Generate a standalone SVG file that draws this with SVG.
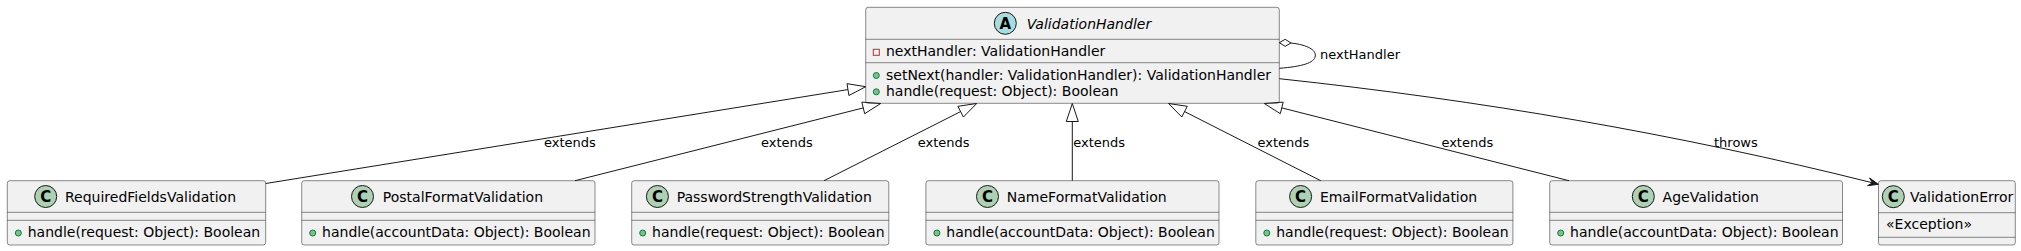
<svg xmlns="http://www.w3.org/2000/svg" width="2021" height="251" viewBox="0 0 2021 251">
<style>
.box{fill:#F1F1F1;stroke:#181818;stroke-width:0.5}
.sep{stroke:#181818;stroke-width:0.5}
.t{font-family:"DejaVu Sans",sans-serif;font-size:14px;fill:#000}
.it{font-style:italic}
.lbl{font-family:"DejaVu Sans",sans-serif;font-size:13px;fill:#000}
.cc{fill:#ADD1B2;stroke:#181818;stroke-width:1}
.ac{fill:#A9DCDF;stroke:#181818;stroke-width:1}
.ltr{font-family:"DejaVu Sans",sans-serif;font-size:15px;font-weight:bold;fill:#000;text-anchor:middle}
.pub{fill:#84BE84;stroke:#038048;stroke-width:1}
.priv{fill:none;stroke:#C82930;stroke-width:1}
.ln{fill:none;stroke:#181818;stroke-width:1}
.tri{fill:none;stroke:#181818;stroke-width:1}
.arr{fill:#181818;stroke:#181818;stroke-width:1}
</style>

<g id="ValidationHandler">
<rect class="box" x="865.7" y="7.3" width="413.6" height="96" rx="2.5"/>
<circle class="ac" cx="1005.3" cy="23.3" r="11"/>
<text class="ltr" x="1005.3" y="28.8">A</text>
<text class="t it" x="1026.7" y="28.5">ValidationHandler</text>
<line class="sep" x1="865.7" y1="39.3" x2="1279.3" y2="39.3"/>
<rect class="priv" x="873.3" y="49.3" width="6" height="6"/>
<text class="t" x="886" y="56">nextHandler: ValidationHandler</text>
<line class="sep" x1="865.7" y1="62.7" x2="1279.3" y2="62.7"/>
<circle class="pub" cx="876.3" cy="75.5" r="3"/>
<text class="t" x="886" y="79.5">setNext(handler: ValidationHandler): ValidationHandler</text>
<circle class="pub" cx="876.3" cy="91.8" r="3"/>
<text class="t" x="886" y="95.8">handle(request: Object): Boolean</text>
</g>

<g id="RequiredFieldsValidation">
<rect class="box" x="7.3" y="180.7" width="258.4" height="64.3" rx="2.5"/>
<circle class="cc" cx="45.7" cy="196.5" r="11"/>
<text class="ltr" x="45.7" y="202">C</text>
<text class="t" x="65" y="201.5">RequiredFieldsValidation</text>
<line class="sep" x1="7.3" y1="212.3" x2="265.7" y2="212.3"/>
<line class="sep" x1="7.3" y1="220.3" x2="265.7" y2="220.3"/>
<circle class="pub" cx="18.3" cy="233" r="3"/>
<text class="t" x="27.7" y="237">handle(request: Object): Boolean</text>
</g>

<g id="PostalFormatValidation">
<rect class="box" x="301.7" y="180.7" width="293.3" height="64.3" rx="2.5"/>
<circle class="cc" cx="362.5" cy="196.5" r="11"/>
<text class="ltr" x="362.5" y="202">C</text>
<text class="t" x="382.8" y="201.5">PostalFormatValidation</text>
<line class="sep" x1="301.7" y1="212.3" x2="595" y2="212.3"/>
<line class="sep" x1="301.7" y1="220.3" x2="595" y2="220.3"/>
<circle class="pub" cx="312.7" cy="233" r="3"/>
<text class="t" x="322.1" y="237">handle(accountData: Object): Boolean</text>
</g>

<g id="PasswordStrengthValidation">
<rect class="box" x="631.7" y="180.7" width="257.1" height="64.3" rx="2.5"/>
<circle class="cc" cx="657.4" cy="196.5" r="11"/>
<text class="ltr" x="657.4" y="202">C</text>
<text class="t" x="676.7" y="201.5">PasswordStrengthValidation</text>
<line class="sep" x1="631.7" y1="212.3" x2="888.8" y2="212.3"/>
<line class="sep" x1="631.7" y1="220.3" x2="888.8" y2="220.3"/>
<circle class="pub" cx="642.7" cy="233" r="3"/>
<text class="t" x="652.1" y="237">handle(request: Object): Boolean</text>
</g>

<g id="NameFormatValidation">
<rect class="box" x="925.9" y="180.7" width="293.1" height="64.3" rx="2.5"/>
<circle class="cc" cx="987.5" cy="196.5" r="11"/>
<text class="ltr" x="987.5" y="202">C</text>
<text class="t" x="1006.8" y="201.5">NameFormatValidation</text>
<line class="sep" x1="925.9" y1="212.3" x2="1219" y2="212.3"/>
<line class="sep" x1="925.9" y1="220.3" x2="1219" y2="220.3"/>
<circle class="pub" cx="936.9" cy="233" r="3"/>
<text class="t" x="946.3" y="237">handle(accountData: Object): Boolean</text>
</g>

<g id="EmailFormatValidation">
<rect class="box" x="1255.8" y="180.7" width="257.1" height="64.3" rx="2.5"/>
<circle class="cc" cx="1300.6" cy="196.5" r="11"/>
<text class="ltr" x="1300.6" y="202">C</text>
<text class="t" x="1319.9" y="201.5">EmailFormatValidation</text>
<line class="sep" x1="1255.8" y1="212.3" x2="1512.9" y2="212.3"/>
<line class="sep" x1="1255.8" y1="220.3" x2="1512.9" y2="220.3"/>
<circle class="pub" cx="1266.8" cy="233" r="3"/>
<text class="t" x="1276.2" y="237">handle(request: Object): Boolean</text>
</g>

<g id="AgeValidation">
<rect class="box" x="1549.7" y="180.7" width="292.8" height="64.3" rx="2.5"/>
<circle class="cc" cx="1643.3" cy="196.5" r="11"/>
<text class="ltr" x="1643.3" y="202">C</text>
<text class="t" x="1662.6" y="201.5">AgeValidation</text>
<line class="sep" x1="1549.7" y1="212.3" x2="1842.5" y2="212.3"/>
<line class="sep" x1="1549.7" y1="220.3" x2="1842.5" y2="220.3"/>
<circle class="pub" cx="1560.7" cy="233" r="3"/>
<text class="t" x="1570.1" y="237">handle(accountData: Object): Boolean</text>
</g>

<g id="ValidationError">
<rect class="box" x="1878.5" y="180.7" width="136.8" height="64.3" rx="2.5"/>
<circle class="cc" cx="1893.3" cy="196.7" r="11"/>
<text class="ltr" x="1893.3" y="202.2">C</text>
<text class="t" x="1910" y="201.7">ValidationError</text>
<line class="sep" x1="1878.5" y1="212.7" x2="2015.3" y2="212.7"/>
<text class="t" x="1886" y="229.3">«Exception»</text>
<line class="sep" x1="1878.5" y1="237.3" x2="2015.3" y2="237.3"/>
</g>

<g id="connectors">
<path class="ln" d="M265.7,183.5 L847.9,89.6"/>
<polygon class="tri" points="865.7,86.7 848.9,95.5 847.0,83.7"/>
<text class="lbl" x="544" y="147">extends</text>

<path class="ln" d="M575,180.7 L863.3,107.9"/>
<polygon class="tri" points="880.7,103.5 864.7,113.7 861.8,102.1"/>
<text class="lbl" x="761" y="147">extends</text>

<path class="ln" d="M824,180.7 L960.6,111.6"/>
<polygon class="tri" points="976.7,103.5 963.4,117.0 957.9,106.3"/>
<text class="lbl" x="917.7" y="147">extends</text>

<path class="ln" d="M1072.3,180.7 L1072.3,121.5"/>
<polygon class="tri" points="1072.3,103.5 1066.3,121.5 1078.3,121.5"/>
<text class="lbl" x="1073.3" y="147">extends</text>

<path class="ln" d="M1320.7,180.7 L1184.6,111.6"/>
<polygon class="tri" points="1168.5,103.5 1187.3,106.3 1181.8,117.0"/>
<text class="lbl" x="1257.5" y="147">extends</text>

<path class="ln" d="M1569,180.7 L1281.8,107.9"/>
<polygon class="tri" points="1264.3,103.5 1283.2,102.1 1280.3,113.7"/>
<text class="lbl" x="1441.4" y="147">extends</text>

<path class="ln" d="M1279.3,78.7 C1479,100 1678,134 1872.5,182.8"/>
<polygon class="arr" points="1878.3,184.3 1867.6,185.7 1872.5,182.8 1869.6,178"/>
<text class="lbl" x="1714" y="147">throws</text>

<path class="ln" d="M1291,43 C1308,45 1316,50 1315.3,56 C1314.5,63 1302,66.5 1279.3,68.3"/>
<polygon class="tri" points="1279.3,42.7 1285.2,39.3 1291,43 1285.2,46.3"/>
<text class="lbl" x="1320" y="59">nextHandler</text>
</g>
</svg>
